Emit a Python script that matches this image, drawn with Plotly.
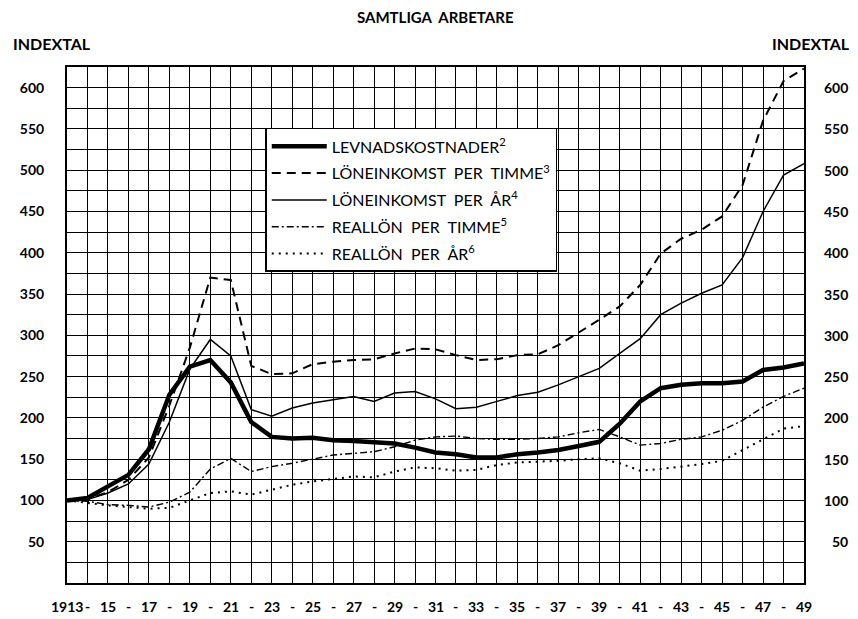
import plotly.graph_objects as go

years = list(range(1913, 1950))

levnadskostnader = [100, 103, 117, 131, 162, 228, 262, 270, 243, 195,
                    177, 175, 176, 173, 172, 171, 169, 164, 158, 156,
                    152, 152, 156, 158, 161, 166, 171, 193, 220, 236,
                    240, 242, 242, 244, 258, 261, 266]

loneinkomst_timme = [100, 102, 110, 125, 152, 215, 285, 370, 367, 263,
                     253, 254, 265, 268, 270, 271, 278, 284, 283, 276,
                     270, 271, 276, 277, 288, 303, 319, 335, 361, 399,
                     417, 428, 444, 482, 560, 608, 623]

loneinkomst_ar = [100, 101, 109, 120, 144, 195, 259, 295, 275, 210,
                  202, 212, 218, 222, 226, 220, 230, 232, 223, 211,
                  213, 220, 227, 231, 240, 250, 260, 278, 296, 325,
                  339, 351, 361, 394, 450, 494, 508]

reallon_timme = [100, 99, 95, 94, 92, 98, 110, 138, 151, 135,
                 141, 145, 150, 155, 157, 159, 165, 173, 177, 178,
                 175, 174, 174, 175, 177, 182, 186, 177, 167, 169,
                 174, 177, 185, 197, 213, 226, 236]

reallon_ar = [100, 97, 94, 92, 90, 91, 100, 109, 111, 107,
              113, 119, 123, 126, 129, 128, 135, 140, 139, 136,
              137, 143, 146, 147, 148, 150, 151, 145, 136, 138,
              141, 144, 148, 161, 174, 187, 190]

series_names = ["LEVNADSKOSTNADER<sup>2</sup>",
                "LÖNEINKOMST  PER  TIMME<sup>3</sup>",
                "LÖNEINKOMST  PER  ÅR<sup>4</sup>",
                "REALLÖN  PER  TIMME<sup>5</sup>",
                "REALLÖN  PER  ÅR<sup>6</sup>"]
series_values = [levnadskostnader, loneinkomst_timme, loneinkomst_ar,
                 reallon_timme, reallon_ar]

y_tick_values = list(range(50, 601, 50))
x_tick_years = [1913] + list(range(1915, 1950, 2))

styles = [dict(color="black", width=4.5, dash="solid"),
          dict(color="black", width=2.0, dash="9px,6px"),
          dict(color="black", width=1.5, dash="solid"),
          dict(color="black", width=1.4, dash="7px,3px,2px,3px"),
          dict(color="black", width=2.0, dash="2px,5px")]

FONT = "Lato"

fig = go.Figure()
for i, (name, vals) in enumerate(zip(series_names, series_values)):
    fig.add_trace(go.Scatter(x=years, y=vals, mode="lines", name=name,
                             line=styles[i], legendgroup=f"g{i}",
                             hoverinfo="skip"))

# the page body adds an 8 px margin, so the figure is 8 px smaller
fig.update_layout(
    width=850, height=611,
    margin=dict(l=56, r=54, t=59, b=36),
    paper_bgcolor="white", plot_bgcolor="white",
    font=dict(family=FONT, color="black"),
    showlegend=True,
    legend=dict(x=0.269, y=0.882, xanchor="left", yanchor="top",
                bgcolor="white", bordercolor="black", borderwidth=1.5,
                font=dict(family=FONT, size=16, color="black"),
                traceorder="grouped", tracegroupgap=3,
                itemwidth=55),
    xaxis=dict(range=[1913, 1949], dtick=1, tick0=1913,
               showgrid=True, gridcolor="black", gridwidth=1.3,
               showticklabels=False, ticks="", zeroline=False,
               showline=True, linecolor="black", linewidth=2, mirror=True),
    yaxis=dict(range=[0, 625], tickvals=y_tick_values,
               showgrid=True, gridcolor="black", gridwidth=1.3,
               minor=dict(dtick=25, tick0=0, showgrid=True,
                          gridcolor="black", gridwidth=1.3),
               ticks="", ticklabelstandoff=18,
               tickfont=dict(family=FONT, size=14, color="black", weight="bold"),
               zeroline=False,
               showline=True, linecolor="black", linewidth=2, mirror=True),
)

ann = []
# right-hand tick labels (right aligned as in the original)
for v in y_tick_values:
    ann.append(dict(x=1.0622, xref="paper", y=v, yref="y", text=str(v),
                    xanchor="right", yanchor="middle", showarrow=False,
                    font=dict(family=FONT, size=14, color="black", weight="bold")))
# x labels
for yr in x_tick_years:
    txt = str(yr) if yr == 1913 else f"{yr % 100:02d}"
    ann.append(dict(x=yr, xref="x", y=-0.046, yref="paper", text=txt,
                    xanchor="center", yanchor="middle", showarrow=False,
                    font=dict(family=FONT, size=14, color="black", weight="bold")))
    if yr != 1913:
        ann.append(dict(x=yr - 1, xref="x", y=-0.046, yref="paper", text="-",
                        xanchor="center", yanchor="middle", showarrow=False,
                        font=dict(family=FONT, size=14, color="black", weight="bold")))
# titles
ann.append(dict(x=0.5, xref="paper", y=1.097, yref="paper",
                text="SAMTLIGA  ARBETARE", showarrow=False,
                xanchor="center", yanchor="middle",
                font=dict(family=FONT, size=15, color="black", weight="bold")))
ann.append(dict(x=-0.0757, xref="paper", y=1.0465, yref="paper",
                text="INDEXTAL", showarrow=False,
                xanchor="left", yanchor="middle",
                font=dict(family=FONT, size=16, color="black", weight="bold")))
ann.append(dict(x=1.0649, xref="paper", y=1.0465, yref="paper",
                text="INDEXTAL", showarrow=False,
                xanchor="right", yanchor="middle",
                font=dict(family=FONT, size=16, color="black", weight="bold")))
fig.update_layout(annotations=ann)

fig.write_html("out.html")
